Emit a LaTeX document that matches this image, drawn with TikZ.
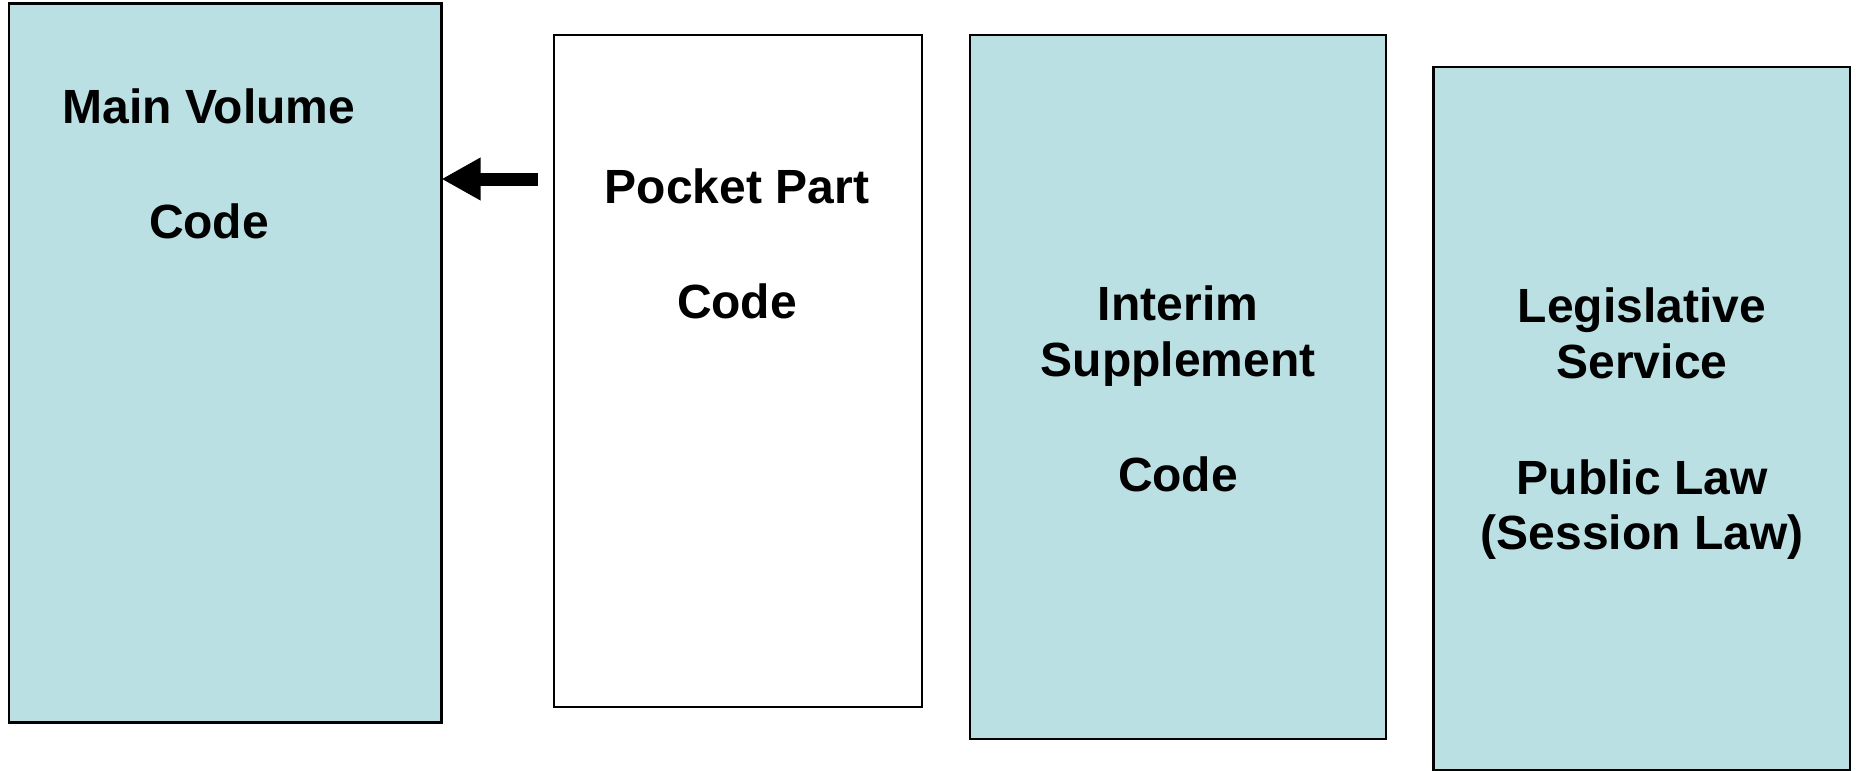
\documentclass[tikz,border=0pt]{standalone}
\usepackage{fontspec}
\setmainfont{Liberation Sans}
\usetikzlibrary{arrows.meta}
\definecolor{bookblue}{HTML}{BBE0E3}
\tikzset{
  book/.style={draw=black, line width=2.2pt, rectangle, inner sep=0pt, outer sep=0pt},
  bluebook/.style={book, fill=bookblue},
  whitebook/.style={book, fill=white},
  lbl/.style={anchor=base, inner sep=0pt, font=\fontsize{48}{56}\selectfont\bfseries},
  fatarrow/.style={line width=13pt, -{Triangle[length=39pt,width=40pt]}}
}
\begin{document}
\begin{tikzpicture}[x=1pt,y=-1pt]
\useasboundingbox[fill=white] (0,0) rectangle (1856,771);
% boxes
\node[bluebook, minimum width=432.5pt, minimum height=719pt] (b1) at (225.25,363) {};
\node[whitebook, minimum width=368pt, minimum height=672pt] (b2) at (738,371) {};
\node[bluebook, minimum width=416pt, minimum height=703.6pt] (b3) at (1178,386.8) {};
\node[bluebook, minimum width=416.5pt, minimum height=703.5pt] (b4) at (1641.75,418.75) {};
% texts
\node[lbl] (t1a) at (209,123.3) {Main Volume};
\node[lbl] (t1b) at (209,238.3) {Code};
\node[lbl] (t2a) at (737,203.3) {Pocket Part};
\node[lbl] (t2b) at (737,318.3) {Code};
\node[lbl] (t3a) at (1178,320) {Interim};
\node[lbl] (t3b) at (1178,376.7) {Supplement};
\node[lbl] (t3c) at (1178,491.7) {Code};
\node[lbl] (t4a) at (1642,322.7) {Legislative};
\node[lbl] (t4b) at (1642,378.3) {Service};
\node[lbl] (t4c) at (1642,494) {Public Law};
\node[lbl] (t4d) at (1642,549.3) {(Session Law)};
% arrow
\coordinate (atail) at (537.7,179);
\draw[fatarrow] (atail) -- (b1.east |- atail);
\end{tikzpicture}
\end{document}
